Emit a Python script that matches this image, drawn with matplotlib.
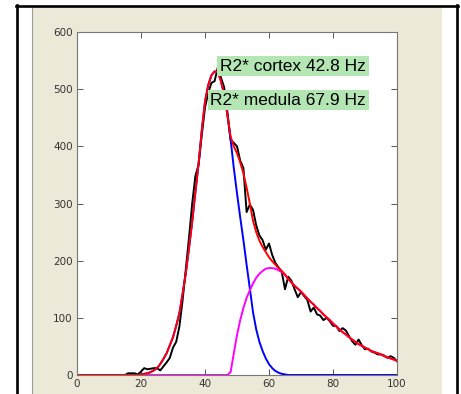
import numpy as np
import matplotlib.pyplot as plt
from matplotlib.patches import Rectangle
from matplotlib.lines import Line2D

# time axis (frames)
time = list(range(101))

# measured signal (black)
signal = [0] * 16 + [
    3, 3, 3, 1,
    6, 12, 10, 11, 12, 12, 8, 15, 22, 30,
    48, 58, 85, 131, 185, 240, 300, 348, 368, 420,
    468, 493, 511, 514, 538, 520, 503, 460, 411, 406,
    400, 375, 362, 285, 298, 289, 262, 244, 236, 219,
    230, 210, 196, 188, 180, 150, 172, 165, 150, 136,
    145, 138, 131, 111, 118, 106, 104, 96, 100, 94,
    86, 86, 77, 82, 78, 68, 59, 53, 62, 52,
    45, 46, 41, 39, 36, 36, 34, 30, 33, 30,
    24]

# first pass fit (cortex, blue)
cortex = [0] * 20 + [
    1, 2, 3, 5, 8, 12, 19, 28, 38, 52,
    66, 86, 108, 142, 178, 222, 268, 320, 370, 428,
    478, 507, 524, 531, 530, 514, 490, 455, 412, 362,
    318, 276, 236, 193, 152, 110, 80, 58, 42, 29,
    19, 12, 7, 4, 2, 1] + [0] * 35

# second fit (medula, magenta)
medula = [0] * 48 + [
    5, 38,
    70, 96, 117, 135, 148, 160, 170, 177, 182, 186,
    187, 187, 186, 183, 180, 175, 168, 162, 156, 151,
    146, 140, 134, 128, 123, 117, 112, 106, 101, 96,
    90, 85, 80, 75, 71, 66, 62, 58, 54, 51,
    48, 45, 42, 40, 38, 36, 33, 31, 29, 27,
    25]

# total fit (red)
total = [0] * 20 + [
    1, 2, 3, 5, 8, 12, 19, 28, 38, 52,
    66, 86, 108, 142, 178, 222, 268, 320, 370, 428,
    478, 507, 524, 531, 530, 514, 490, 455, 417, 400,
    388, 372, 353, 328, 300, 270, 250, 235, 224, 215,
    206, 199, 193, 187, 182, 176, 168, 162, 156, 151,
    146, 140, 134, 128, 123, 117, 112, 106, 101, 96,
    90, 85, 80, 75, 71, 66, 62, 58, 54, 51,
    48, 45, 42, 40, 38, 36, 33, 31, 29, 27,
    25]

labels = ['R2* cortex 42.8 Hz', 'R2* medula 67.9 Hz']
label_y = [540, 481]

W, H = 461, 394
fig = plt.figure(figsize=(W / 100, H / 100), dpi=100)
fig.patch.set_facecolor('white')

# window-like background
fig.patches.append(Rectangle((32 / W, 0), (442 - 32) / W, 1 - 7 / H,
                             transform=fig.transFigure, facecolor='#ECE9D8',
                             edgecolor='none', zorder=-10))
fig.lines.append(Line2D([31.5 / W, 31.5 / W], [0, 1 - 7 / H], transform=fig.transFigure,
                        color='#9a9a9a', lw=0.8, zorder=-5))
for xs, ys in [([17 / W, 17 / W], [0, 1 - 5 / H]),
               ([457 / W, 457 / W], [0, 1 - 5 / H]),
               ([16 / W, 458 / W], [1 - 5.5 / H, 1 - 5.5 / H])]:
    fig.lines.append(Line2D(xs, ys, transform=fig.transFigure, color='black', lw=1.9, zorder=-5))

ax = fig.add_axes([77 / W, 19 / H, 320 / W, 343 / H])
ax.set_facecolor('white')

ax.plot(time, signal, color='black', lw=1.4)
ax.plot(time, cortex, color='#0000ff', lw=1.4)
ax.plot(time, medula, color='#ff00ff', lw=1.4)
ax.plot(time, total, color='#ff0000', lw=1.4)

ax.set_xlim(0, 100)
ax.set_ylim(0, 600)
ax.set_xticks(range(0, 101, 20))
ax.set_yticks(range(0, 601, 100))
ax.tick_params(direction='in', length=4, width=0.7, color='#555555',
               top=True, right=True, labelsize=7.5, labelcolor='#333333', pad=3)
for s in ax.spines.values():
    s.set_color('#777777')
    s.set_linewidth(0.8)

for txt, yv in zip(labels, label_y):
    ax.text(90.3, yv, txt, ha='right', va='center', fontsize=12.5,
            family='Liberation Sans', color='black',
            bbox=dict(boxstyle='square,pad=0.15', facecolor='#b3e6b3', edgecolor='none'))

fig.savefig('out.png', dpi=100)
